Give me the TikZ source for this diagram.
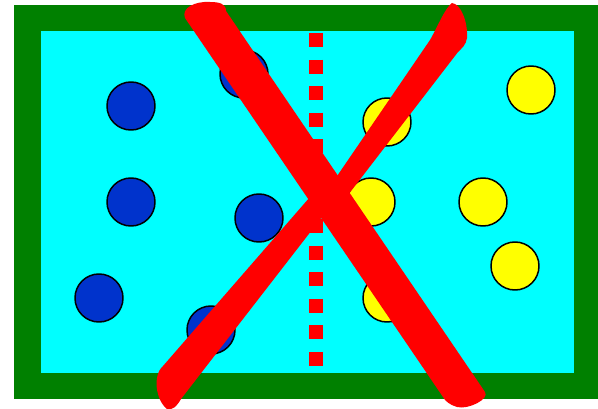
\documentclass[tikz,border=0pt]{standalone}
\usepackage{tikz}
\usepackage{xcolor}

\definecolor{framegreen}{RGB}{0,128,0}
\definecolor{poolcyan}{RGB}{0,255,255}
\definecolor{discblue}{RGB}{0,51,204}
\definecolor{discyellow}{RGB}{255,255,0}
\definecolor{crossred}{RGB}{255,0,0}

\begin{document}
\begin{tikzpicture}[x=1pt,y=-1pt,line join=round,
  bluedisc/.style={fill=discblue,draw=black,line width=1.5pt},
  yellowdisc/.style={fill=discyellow,draw=black,line width=1.5pt},
  midline/.style={crossred,line width=14pt,dash pattern=on 14pt off 12.58pt},
  crossstroke/.style={fill=crossred}]
\useasboundingbox (0,0) rectangle (598,409);
\fill[framegreen] (14,5) rectangle (598,399);
\fill[poolcyan] (40.5,31) rectangle (574,373);
\draw[midline] (316,33) -- (316,366);
% left side
\filldraw[bluedisc] (131,106) circle (24);
\filldraw[bluedisc] (244,74) circle (24);
\filldraw[bluedisc] (131,202) circle (24);
\filldraw[bluedisc] (259,218) circle (24);
\filldraw[bluedisc] (99,298) circle (24);
\filldraw[bluedisc] (211,330) circle (24);
% right side
\filldraw[yellowdisc] (387,122) circle (24);
\filldraw[yellowdisc] (531,90) circle (24);
\filldraw[yellowdisc] (371,202) circle (24);
\filldraw[yellowdisc] (483,202) circle (24);
\filldraw[yellowdisc] (515,266) circle (24);
\filldraw[yellowdisc] (387,298) circle (24);
% the cross
\fill[crossstroke] (185,18) .. controls (181,8) and (195,1) .. (210,2)
  .. controls (220,2) and (226,4) .. (226,11) -- (485,392)
  .. controls (490,399) and (468,410) .. (457,407)
  .. controls (450,405) and (445,401) .. (443,397) -- cycle;
\fill[crossstroke] (452,3) .. controls (461,4) and (468,22) .. (467,38)
  .. controls (466,45) and (462,48) .. (458,52) -- (348,195) -- (322,217)
  -- (181,399) .. controls (177,406) and (172,411) .. (167,409)
  .. controls (159,403) and (155,388) .. (157,378)
  .. controls (158,372) and (160,369) .. (163,366) -- (310,197) -- (333,182)
  -- (430,40) .. controls (438,26) and (445,8) .. (452,3) -- cycle;
\end{tikzpicture}
\end{document}
